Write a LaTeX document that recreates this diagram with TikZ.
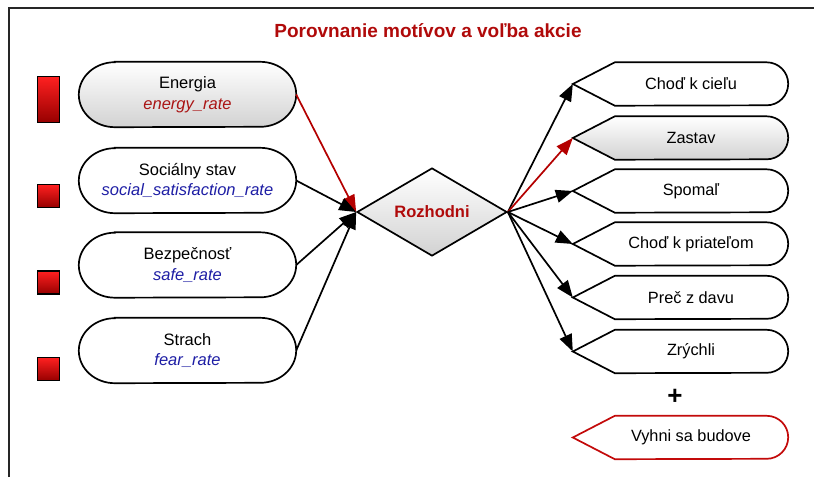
\documentclass[tikz,border=0pt]{standalone}
\usepackage{fontspec}
\setmainfont{Liberation Sans}
\usetikzlibrary{arrows.meta,calc,shapes.geometric,backgrounds}

\definecolor{titlered}{RGB}{176,10,10}
\definecolor{ratered}{RGB}{170,20,20}
\definecolor{rateblue}{RGB}{30,30,165}
\definecolor{shadegray}{RGB}{210,210,210}
\definecolor{barbright}{RGB}{255,32,32}
\definecolor{bardark}{RGB}{150,0,0}
\definecolor{arrowred}{RGB}{180,0,0}
\definecolor{avoidred}{RGB}{195,10,10}

% stadium outline with elliptic caps around a motive node
\newcommand\motiveoutline[2]{%
  \path[outlinepen,#2] ($(#1.north west)+(36pt,0)$) -- ($(#1.north east)+(-36pt,0)$)
    arc[start angle=90,end angle=-90,x radius=36pt,y radius=32.5pt]
    -- ($(#1.south west)+(36pt,0)$)
    arc[start angle=270,end angle=90,x radius=36pt,y radius=32.5pt] -- cycle;}

% left-pointing tag with a rounded right end around an action node
\newcommand\actionoutline[2]{%
  \path[outlinepen,#2] ($(#1.west)+(-21pt,0)$) -- ($(#1.north west)+(21pt,0)$)
    -- ($(#1.north east)+(-21.5pt,0)$)
    arc[start angle=90,end angle=-90,radius=21.5pt]
    -- ($(#1.south west)+(21pt,0)$) -- cycle;}

\begin{document}
\begin{tikzpicture}[x=1pt,y=-1pt,
  frameline/.style={line width=2.2pt,draw=black!85},
  heading/.style={font=\fontsize{19}{22}\bfseries\selectfont,text=titlered},
  motive/.style={minimum width=217pt,minimum height=65pt,inner sep=0pt,
    align=center,font=\fontsize{16.5}{20.5}\selectfont},
  action/.style={minimum width=194pt,minimum height=43pt,inner sep=0pt,
    font=\fontsize{16.3}{19}\selectfont},
  levelbar/.style={draw=black,line width=1.6pt,top color=barbright,
    bottom color=bardark,minimum width=22pt,inner sep=0pt},
  outlinepen/.style={draw=black,line width=1.7pt},
  softshade/.style={top color=white,bottom color=shadegray},
  plainfill/.style={fill=white},
  avoidpen/.style={draw=avoidred,fill=white},
  decision/.style={diamond,aspect=1.7,minimum width=150pt,minimum height=88pt,
    inner sep=0pt,draw=black,line width=1.7pt,top color=white,bottom color=shadegray,
    font=\fontsize{16.5}{19}\bfseries\selectfont,text=titlered},
  flow/.style={line width=1.7pt,-{Triangle[length=17pt,width=13pt]}},
  redflow/.style={flow,color=arrowred},
  plus/.style={font=\fontsize{26}{26}\bfseries\selectfont}
]
\useasboundingbox (0,0) rectangle (814,477);

% frame
\draw[frameline] (9,477) -- (9,8) -- (814,8);

% heading
\node[heading] (title) at (428,31) {Porovnanie motívov a voľba akcie};

% level bars
\node[levelbar,minimum height=46pt] (bar1) at (48.5,99.5) {};
\node[levelbar,minimum height=23pt] (bar2) at (48.5,196) {};
\node[levelbar,minimum height=23pt] (bar3) at (48.5,282.5) {};
\node[levelbar,minimum height=23pt] (bar4) at (48.5,369) {};

% motives
\node[motive] (energy) at (187.5,94.5) {Energia\\{\color{ratered}\itshape energy\_rate}};
\node[motive] (social) at (187.5,180.5) {Sociálny stav\\{\color{rateblue}\itshape social\_satisfaction\_rate}};
\node[motive] (safe) at (187.5,265) {Bezpečnosť\\{\color{rateblue}\itshape safe\_rate}};
\node[motive] (fear) at (187.5,350.5) {Strach\\{\color{rateblue}\itshape fear\_rate}};

% decision
\node[decision] (decide) at (432,212) {Rozhodni};

% actions
\node[action] (goal) at (691,84) {Choď k cieľu};
\node[action] (stop) at (691,138) {Zastav};
\node[action] (slow) at (691,191) {Spomaľ};
\node[action] (friends) at (691,244) {Choď k priateľom};
\node[action] (away) at (691,297.5) {Preč z davu};
\node[action] (fast) at (691,351.5) {Zrýchli};
\node[plus] (plus) at (675,396.5) {+};
\node[action] (avoid) at (691,437.5) {Vyhni sa budove};

\begin{scope}[on background layer]
  \motiveoutline{energy}{softshade}
  \motiveoutline{social}{plainfill}
  \motiveoutline{safe}{plainfill}
  \motiveoutline{fear}{plainfill}
  \actionoutline{goal}{plainfill}
  \actionoutline{stop}{softshade}
  \actionoutline{slow}{plainfill}
  \actionoutline{friends}{plainfill}
  \actionoutline{away}{plainfill}
  \actionoutline{fast}{plainfill}
  \actionoutline{avoid}{avoidpen}
\end{scope}

% tips of the action tags
\foreach \n in {goal,stop,slow,friends,away,fast}
  \coordinate (\n-tip) at ($(\n.west)+(-21pt,0)$);

% motives into the decision
\draw[redflow] (energy.east) -- (decide.west);
\draw[flow] (social.east) -- (decide.west);
\draw[flow] (safe.east) -- (decide.west);
\draw[flow] (fear.east) -- (decide.west);

% decision out to the actions
\draw[flow] (decide.east) -- (goal-tip);
\draw[redflow] (decide.east) -- (stop-tip);
\draw[flow] (decide.east) -- (slow-tip);
\draw[flow] (decide.east) -- (friends-tip);
\draw[flow] (decide.east) -- (away-tip);
\draw[flow] (decide.east) -- (fast-tip);
\end{tikzpicture}
\end{document}
